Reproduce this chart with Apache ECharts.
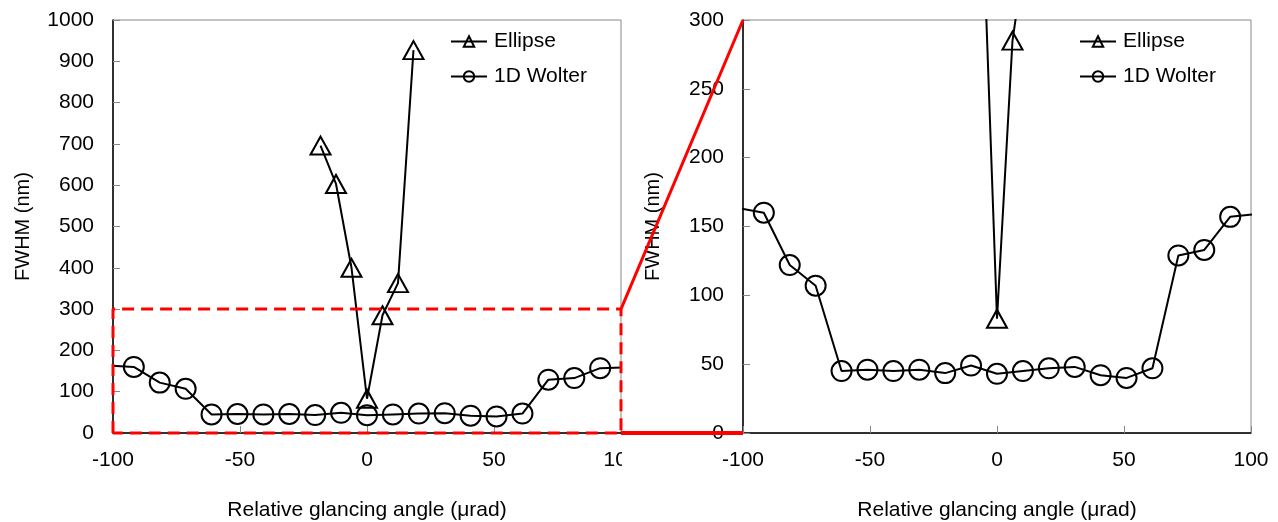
<!DOCTYPE html>
<html>
<head>
<meta charset="utf-8">
<script src="https://cdn.jsdelivr.net/npm/echarts@6/dist/echarts.min.js"></script>
<style>
html,body{margin:0;padding:0;background:#fff;}
#main{width:1278px;height:522px;}
</style>
</head>
<body>
<div id="main"></div>
<script>
// ---- data ----
const wolterX = [-102, -91.8, -81.6, -71.4, -61.2, -51, -40.8, -30.6, -20.4, -10.2, 0, 10.2, 20.4, 30.6, 40.8, 51, 61.2, 71.4, 81.6, 91.8, 102];
const wolterY = [163.5, 160, 122, 107, 45, 46, 45, 46, 43.5, 49, 43, 45, 47, 48, 42, 40, 47, 129, 133, 157, 159];
const ellipseX = [-18.3, -12.2, -6.1, 0, 6.1, 12.2, 18.3];
const ellipseY = [696, 603, 400, 83, 285, 363, 927];
const zoomBoxX = [-100, -100, 100, 100, -100];
const zoomBoxY = [0, 300, 300, 0, 0];
const seriesNames = ['Ellipse', '1D Wolter'];
const xTitle = 'Relative glancing angle (\u03bcrad)';
const yTitle = 'FWHM (nm)';

const FONT = '"Liberation Sans", Arial, sans-serif';
const pairs = (xs, ys) => xs.map((x, i) => [x, ys[i]]);

const chart = echarts.init(document.getElementById('main'), null, {renderer: 'canvas'});

function xAxisFor(gi) {
  return {
    gridIndex: gi, type: 'value', min: -100, max: 100, interval: 50,
    name: xTitle, nameLocation: 'middle', nameGap: 67,
    nameTextStyle: {fontFamily: FONT, fontSize: 21, color: '#000'},
    axisLine: {show: true, onZero: false, lineStyle: {color: '#000', width: 1.5}},
    axisTick: {show: true, inside: true, length: 7, lineStyle: {color: '#888', width: 1}},
    axisLabel: {fontFamily: FONT, fontSize: 21, color: '#000', margin: 17, formatter: v => String(v)},
    splitLine: {show: false}
  };
}
function yAxisFor(gi, max, interval) {
  return {
    gridIndex: gi, type: 'value', min: 0, max: max, interval: interval,
    name: yTitle, nameLocation: 'middle', nameGap: 80,
    nameTextStyle: {fontFamily: FONT, fontSize: 20, color: '#000'},
    axisLine: {show: true, onZero: false, lineStyle: {color: '#000', width: 1.5}},
    axisTick: {show: true, inside: true, length: 7, lineStyle: {color: '#888', width: 1}},
    axisLabel: {fontFamily: FONT, fontSize: 21, color: '#000', margin: 19, formatter: v => String(v)},
    splitLine: {show: false}
  };
}
function seriesFor(gi) {
  return [
    {
      name: seriesNames[0], type: 'line', xAxisIndex: gi, yAxisIndex: gi,
      data: pairs(ellipseX, ellipseY), clip: true,
      symbol: 'triangle', symbolSize: [20, 18],
      lineStyle: {color: '#000', width: 2},
      itemStyle: {color: 'rgba(255,255,255,0)', borderColor: '#000', borderWidth: 2},
      z: 3
    },
    {
      name: seriesNames[1], type: 'line', xAxisIndex: gi, yAxisIndex: gi,
      data: pairs(wolterX, wolterY), clip: true,
      symbol: 'circle', symbolSize: [20, 20],
      lineStyle: {color: '#000', width: 2},
      itemStyle: {color: 'rgba(255,255,255,0)', borderColor: '#000', borderWidth: 2},
      z: 3
    }
  ];
}
function legendFor(left) {
  return {
    orient: 'vertical', left: left, top: 26, itemGap: 14,
    itemWidth: 36, itemHeight: 13,
    data: seriesNames,
    textStyle: {fontFamily: FONT, fontSize: 21, color: '#000', padding: [0, 0, 0, 2]}
  };
}

const gridBase = {top: 20, width: 508, height: 413, show: true, borderColor: '#888', borderWidth: 1,
  backgroundColor: 'transparent', containLabel: false, outerBoundsMode: 'none'};

const option = {
  animation: false,
  backgroundColor: '#fff',
  grid: [
    Object.assign({left: 113}, gridBase),
    Object.assign({left: 743}, gridBase)
  ],
  xAxis: [xAxisFor(0), xAxisFor(1)],
  yAxis: [yAxisFor(0, 1000, 100), yAxisFor(1, 300, 50)],
  legend: [legendFor(445), legendFor(1074)],
  series: seriesFor(0).concat(seriesFor(1)).concat([{
    name: 'zoomBox', type: 'line', xAxisIndex: 0, yAxisIndex: 0,
    data: pairs(zoomBoxX, zoomBoxY), clip: false, symbol: 'none', silent: true,
    lineStyle: {color: '#ff0000', width: 3, type: [12, 7]}, z: 5
  }])
};
chart.setOption(option);

// connecting lines from zoom box (left) to zoomed axes (right), via the library's scales
const pA1 = chart.convertToPixel({gridIndex: 0}, [zoomBoxX[2], zoomBoxY[2]]);
const pA2 = chart.convertToPixel({gridIndex: 1}, [zoomBoxX[0], zoomBoxY[1]]);
const pB1 = chart.convertToPixel({gridIndex: 0}, [zoomBoxX[3], zoomBoxY[3]]);
const pB2 = chart.convertToPixel({gridIndex: 1}, [zoomBoxX[0], zoomBoxY[0]]);
chart.setOption({
  graphic: [
    {type: 'rect', z: 50, shape: {x: pB1[0] + 1, y: pB1[1] + 5, width: 75, height: 45}, style: {fill: '#fff'}},
    {type: 'line', z: 60, shape: {x1: pA1[0], y1: pA1[1], x2: pA2[0], y2: pA2[1]}, style: {stroke: '#ff0000', lineWidth: 3}},
    {type: 'line', z: 60, shape: {x1: pB1[0], y1: pB1[1], x2: pB2[0], y2: pB2[1]}, style: {stroke: '#ff0000', lineWidth: 4}}
  ]
});
</script>
</body>
</html>
